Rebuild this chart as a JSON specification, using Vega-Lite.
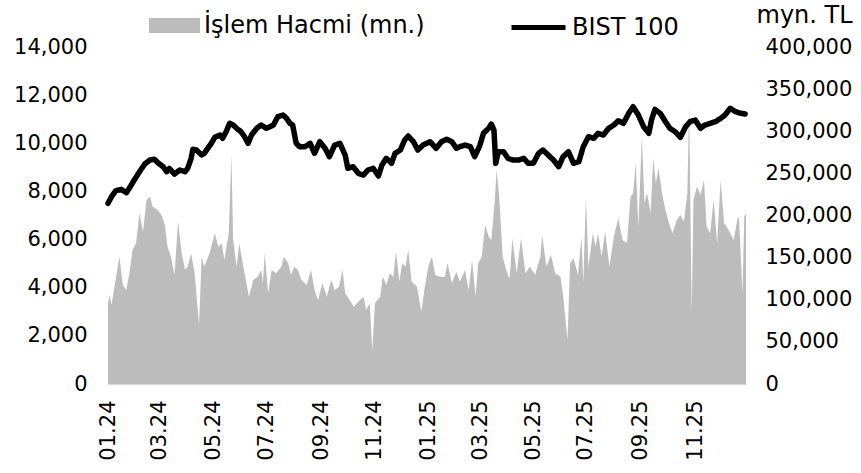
{
"$schema": "https://vega.github.io/schema/vega-lite/v6.json",
"width": 638, "height": 337,
"autosize": {"type": "none"},
"padding": {"left": 108, "top": 47, "right": 115, "bottom": 89},
"background": "white",
"config": {"view": {"stroke": null}, "font": "DejaVu Sans",
 "axis": {"labelFont": "DejaVu Sans", "labelFontSize": 21, "labelColor": "#000000", "grid": false, "ticks": false, "tickSize": 0, "domain": false, "titleFont": "DejaVu Sans"},
 "legend": {"labelFont": "DejaVu Sans", "labelFontSize": 24, "labelColor": "#000000", "padding": 0, "titlePadding": 0, "labelLimit": 500}},
"datasets": {
"bist": [
{"date":"2024-01-02","bist":7506},{"date":"2024-01-06","bist":7781},{"date":"2024-01-11","bist":8030},{"date":"2024-01-17","bist":8088},{"date":"2024-01-23","bist":7947},{"date":"2024-01-27","bist":8171},{"date":"2024-02-01","bist":8474},{"date":"2024-02-07","bist":8819},{"date":"2024-02-13","bist":9139},{"date":"2024-02-19","bist":9305},{"date":"2024-02-24","bist":9334},{"date":"2024-02-28","bist":9193},{"date":"2024-03-05","bist":9027},{"date":"2024-03-09","bist":8819},{"date":"2024-03-12","bist":8960},{"date":"2024-03-18","bist":8723},{"date":"2024-03-24","bist":8890},{"date":"2024-03-30","bist":8819},{"date":"2024-04-02","bist":8960},{"date":"2024-04-06","bist":9376},{"date":"2024-04-08","bist":9750},{"date":"2024-04-12","bist":9720},{"date":"2024-04-18","bist":9513},{"date":"2024-04-21","bist":9583},{"date":"2024-04-25","bist":9791},{"date":"2024-04-29","bist":9999},{"date":"2024-05-03","bist":10248},{"date":"2024-05-09","bist":10343},{"date":"2024-05-12","bist":10206},{"date":"2024-05-16","bist":10481},{"date":"2024-05-20","bist":10829},{"date":"2024-05-24","bist":10759},{"date":"2024-05-28","bist":10622},{"date":"2024-06-02","bist":10481},{"date":"2024-06-06","bist":10273},{"date":"2024-06-10","bist":9999},{"date":"2024-06-14","bist":10343},{"date":"2024-06-20","bist":10622},{"date":"2024-06-25","bist":10759},{"date":"2024-07-01","bist":10622},{"date":"2024-07-05","bist":10688},{"date":"2024-07-09","bist":10759},{"date":"2024-07-14","bist":11104},{"date":"2024-07-20","bist":11174},{"date":"2024-07-24","bist":11037},{"date":"2024-07-28","bist":10829},{"date":"2024-07-31","bist":10759},{"date":"2024-08-04","bist":9999},{"date":"2024-08-08","bist":9857},{"date":"2024-08-14","bist":9857},{"date":"2024-08-20","bist":9999},{"date":"2024-08-25","bist":9583},{"date":"2024-08-31","bist":10065},{"date":"2024-09-06","bist":9791},{"date":"2024-09-11","bist":9442},{"date":"2024-09-17","bist":9928},{"date":"2024-09-23","bist":9999},{"date":"2024-09-29","bist":9513},{"date":"2024-10-02","bist":8960},{"date":"2024-10-08","bist":9027},{"date":"2024-10-14","bist":8752},{"date":"2024-10-20","bist":8682},{"date":"2024-10-25","bist":8890},{"date":"2024-10-31","bist":8960},{"date":"2024-11-06","bist":8640},{"date":"2024-11-10","bist":9097},{"date":"2024-11-15","bist":9376},{"date":"2024-11-21","bist":9168},{"date":"2024-11-25","bist":9583},{"date":"2024-12-01","bist":9720},{"date":"2024-12-06","bist":10136},{"date":"2024-12-10","bist":10302},{"date":"2024-12-16","bist":10065},{"date":"2024-12-21","bist":9720},{"date":"2024-12-27","bist":9928},
{"date":"2025-01-04","bist":10065},{"date":"2025-01-11","bist":9791},{"date":"2025-01-17","bist":10065},{"date":"2025-01-23","bist":10165},{"date":"2025-01-29","bist":10065},{"date":"2025-02-03","bist":9791},{"date":"2025-02-07","bist":9857},{"date":"2025-02-13","bist":9928},{"date":"2025-02-19","bist":9857},{"date":"2025-02-24","bist":9442},{"date":"2025-03-02","bist":9928},{"date":"2025-03-06","bist":10414},{"date":"2025-03-12","bist":10622},{"date":"2025-03-15","bist":10800},{"date":"2025-03-18","bist":10551},{"date":"2025-03-20","bist":9168},{"date":"2025-03-23","bist":9650},{"date":"2025-03-29","bist":9650},{"date":"2025-04-03","bist":9376},{"date":"2025-04-09","bist":9305},{"date":"2025-04-15","bist":9305},{"date":"2025-04-21","bist":9376},{"date":"2025-04-26","bist":9168},{"date":"2025-05-02","bist":9168},{"date":"2025-05-08","bist":9583},{"date":"2025-05-13","bist":9720},{"date":"2025-05-19","bist":9513},{"date":"2025-05-25","bist":9305},{"date":"2025-05-31","bist":9027},{"date":"2025-06-05","bist":9442},{"date":"2025-06-11","bist":9650},{"date":"2025-06-17","bist":9168},{"date":"2025-06-23","bist":9235},{"date":"2025-06-28","bist":9857},{"date":"2025-07-04","bist":10273},{"date":"2025-07-10","bist":10206},{"date":"2025-07-15","bist":10414},{"date":"2025-07-21","bist":10343},{"date":"2025-07-27","bist":10622},{"date":"2025-08-02","bist":10759},{"date":"2025-08-07","bist":10938},{"date":"2025-08-13","bist":10829},{"date":"2025-08-19","bist":11245},{"date":"2025-08-24","bist":11519},{"date":"2025-08-30","bist":11174},{"date":"2025-09-05","bist":10688},{"date":"2025-09-11","bist":10414},{"date":"2025-09-14","bist":10967},{"date":"2025-09-18","bist":11411},{"date":"2025-09-24","bist":11245},{"date":"2025-09-30","bist":10896},{"date":"2025-10-05","bist":10622},{"date":"2025-10-11","bist":10481},{"date":"2025-10-17","bist":10248},{"date":"2025-10-23","bist":10688},{"date":"2025-10-28","bist":10896},{"date":"2025-11-03","bist":10967},{"date":"2025-11-09","bist":10622},{"date":"2025-11-14","bist":10759},{"date":"2025-11-20","bist":10829},{"date":"2025-11-26","bist":10896},{"date":"2025-12-02","bist":11037},{"date":"2025-12-07","bist":11174},{"date":"2025-12-13","bist":11453},{"date":"2025-12-19","bist":11311},{"date":"2025-12-25","bist":11245},{"date":"2025-12-30","bist":11216}
],
"vol": [
{"date":"2024-01-02","vol":95783},{"date":"2024-01-04","vol":105634},{"date":"2024-01-06","vol":93765},{"date":"2024-01-11","vol":125455},{"date":"2024-01-15","vol":151092},{"date":"2024-01-19","vol":117503},{"date":"2024-01-23","vol":111569},{"date":"2024-01-27","vol":135307},{"date":"2024-01-30","vol":159045},{"date":"2024-02-03","vol":166997},{"date":"2024-02-07","vol":202604},{"date":"2024-02-11","vol":180765},{"date":"2024-02-15","vol":218390},{"date":"2024-02-19","vol":222306},{"date":"2024-02-22","vol":210437},{"date":"2024-02-28","vol":206521},{"date":"2024-03-03","vol":200586},{"date":"2024-03-07","vol":188717},{"date":"2024-03-10","vol":162961},{"date":"2024-03-14","vol":151092},{"date":"2024-03-18","vol":129372},{"date":"2024-03-22","vol":192634},{"date":"2024-03-26","vol":157027},{"date":"2024-03-30","vol":135307},{"date":"2024-04-02","vol":139223},{"date":"2024-04-06","vol":155128},{"date":"2024-04-10","vol":131390},{"date":"2024-04-15","vol":70027},{"date":"2024-04-18","vol":151092},{"date":"2024-04-21","vol":139223},{"date":"2024-04-27","vol":155128},{"date":"2024-05-03","vol":178866},{"date":"2024-05-07","vol":162961},{"date":"2024-05-11","vol":166997},{"date":"2024-05-14","vol":147176},{"date":"2024-05-19","vol":178866},{"date":"2024-05-22","vol":271800},{"date":"2024-05-24","vol":170914},{"date":"2024-05-28","vol":139223},{"date":"2024-05-31","vol":166997},{"date":"2024-06-06","vol":131390},{"date":"2024-06-11","vol":103616},{"date":"2024-06-16","vol":123438},{"date":"2024-06-21","vol":127354},{"date":"2024-06-25","vol":135307},{"date":"2024-06-27","vol":119521},{"date":"2024-06-29","vol":155128},{"date":"2024-07-03","vol":107652},{"date":"2024-07-07","vol":135307},{"date":"2024-07-12","vol":131390},{"date":"2024-07-18","vol":139223},{"date":"2024-07-21","vol":151092},{"date":"2024-07-26","vol":143259},{"date":"2024-07-29","vol":129372},{"date":"2024-08-02","vol":139223},{"date":"2024-08-06","vol":135307},{"date":"2024-08-10","vol":123438},{"date":"2024-08-16","vol":117503},{"date":"2024-08-21","vol":135307},{"date":"2024-08-25","vol":111569},{"date":"2024-08-29","vol":99700},{"date":"2024-09-03","vol":119521},{"date":"2024-09-08","vol":103616},{"date":"2024-09-13","vol":123438},{"date":"2024-09-17","vol":111569},{"date":"2024-09-22","vol":115485},{"date":"2024-09-26","vol":135307},{"date":"2024-09-29","vol":107652},{"date":"2024-10-04","vol":99700},{"date":"2024-10-09","vol":91747},{"date":"2024-10-14","vol":97682},{"date":"2024-10-20","vol":103616},{"date":"2024-10-23","vol":87831},{"date":"2024-10-27","vol":95783},{"date":"2024-10-30","vol":40355},{"date":"2024-11-02","vol":95783},{"date":"2024-11-08","vol":103616},{"date":"2024-11-11","vol":127354},{"date":"2024-11-15","vol":117503},{"date":"2024-11-19","vol":131390},{"date":"2024-11-23","vol":127354},{"date":"2024-11-26","vol":157027},{"date":"2024-11-30","vol":121420},{"date":"2024-12-03","vol":143259},{"date":"2024-12-07","vol":139223},{"date":"2024-12-10","vol":159045},{"date":"2024-12-14","vol":121420},{"date":"2024-12-20","vol":115485},{"date":"2024-12-25","vol":85813},{"date":"2024-12-29","vol":115485},
{"date":"2025-01-02","vol":139223},{"date":"2025-01-06","vol":151092},{"date":"2025-01-10","vol":129372},{"date":"2025-01-15","vol":127354},{"date":"2025-01-21","vol":127354},{"date":"2025-01-24","vol":143259},{"date":"2025-01-29","vol":119521},{"date":"2025-02-03","vol":133289},{"date":"2025-02-07","vol":121420},{"date":"2025-02-13","vol":135307},{"date":"2025-02-17","vol":111569},{"date":"2025-02-21","vol":147176},{"date":"2025-02-25","vol":103616},{"date":"2025-02-28","vol":143259},{"date":"2025-03-04","vol":151092},{"date":"2025-03-08","vol":188717},{"date":"2025-03-12","vol":174830},{"date":"2025-03-15","vol":170914},{"date":"2025-03-19","vol":218390},{"date":"2025-03-21","vol":253997},{"date":"2025-03-24","vol":222306},{"date":"2025-03-28","vol":151092},{"date":"2025-04-02","vol":131390},{"date":"2025-04-05","vol":125455},{"date":"2025-04-08","vol":172931},{"date":"2025-04-13","vol":131390},{"date":"2025-04-18","vol":172931},{"date":"2025-04-23","vol":131390},{"date":"2025-04-28","vol":139223},{"date":"2025-05-04","vol":129372},{"date":"2025-05-10","vol":151092},{"date":"2025-05-12","vol":176848},{"date":"2025-05-17","vol":139223},{"date":"2025-05-22","vol":153110},{"date":"2025-05-27","vol":131390},{"date":"2025-06-02","vol":127354},{"date":"2025-06-05","vol":105634},{"date":"2025-06-10","vol":52224},{"date":"2025-06-13","vol":143259},{"date":"2025-06-17","vol":149193},{"date":"2025-06-22","vol":129372},{"date":"2025-06-26","vol":174830},{"date":"2025-06-28","vol":119521},{"date":"2025-07-01","vol":218390},{"date":"2025-07-02","vol":198568},{"date":"2025-07-04","vol":139223},{"date":"2025-07-09","vol":178866},{"date":"2025-07-12","vol":162961},{"date":"2025-07-15","vol":178866},{"date":"2025-07-19","vol":151092},{"date":"2025-07-23","vol":180765},{"date":"2025-07-28","vol":139223},{"date":"2025-08-02","vol":174830},{"date":"2025-08-07","vol":196669},{"date":"2025-08-12","vol":170914},{"date":"2025-08-17","vol":166997},{"date":"2025-08-21","vol":222306},{"date":"2025-08-24","vol":226342},{"date":"2025-08-27","vol":261949},{"date":"2025-08-30","vol":186699},{"date":"2025-09-03","vol":293520},{"date":"2025-09-06","vol":214473},{"date":"2025-09-09","vol":226342},{"date":"2025-09-13","vol":202604},{"date":"2025-09-16","vol":267883},{"date":"2025-09-19","vol":238211},{"date":"2025-09-22","vol":256014},{"date":"2025-09-26","vol":226342},{"date":"2025-09-30","vol":206521},{"date":"2025-10-04","vol":190735},{"date":"2025-10-08","vol":178866},{"date":"2025-10-13","vol":194652},{"date":"2025-10-17","vol":200586},{"date":"2025-10-21","vol":192634},{"date":"2025-10-25","vol":226342},{"date":"2025-10-27","vol":329127},{"date":"2025-10-30","vol":83914},{"date":"2025-11-01","vol":218390},{"date":"2025-11-05","vol":234175},{"date":"2025-11-09","vol":224324},{"date":"2025-11-13","vol":242128},{"date":"2025-11-16","vol":186699},{"date":"2025-11-20","vol":178866},{"date":"2025-11-24","vol":218390},{"date":"2025-11-28","vol":166997},{"date":"2025-12-02","vol":242128},{"date":"2025-12-06","vol":190735},{"date":"2025-12-09","vol":186699},{"date":"2025-12-13","vol":178866},{"date":"2025-12-17","vol":170914},{"date":"2025-12-21","vol":194652},{"date":"2025-12-23","vol":198568},{"date":"2025-12-27","vol":107652},{"date":"2025-12-29","vol":198568},{"date":"2025-12-31","vol":202604}
]
},
"encoding": {
 "x": {"field": "date", "type": "temporal",
  "scale": {"type": "utc", "domain": [{"year": 2024, "month": 1, "date": 2, "utc": true}, {"year": 2025, "month": 12, "date": 31, "utc": true}]},
  "axis": {"title": null, "labelExpr": "utcFormat(datum.value, '%m.%y')", "labelAngle": -90, "labelAlign": "right", "labelBaseline": "middle", "labelPadding": 16,
   "domain": true, "domainColor": "#D9D9D9", "domainWidth": 1.5,
   "values": [
    {"year": 2024, "month": 1, "date": 2, "utc": true},
    {"year": 2024, "month": 3, "date": 1, "utc": true},
    {"year": 2024, "month": 5, "date": 2, "utc": true},
    {"year": 2024, "month": 7, "date": 1, "utc": true},
    {"year": 2024, "month": 9, "date": 2, "utc": true},
    {"year": 2024, "month": 11, "date": 1, "utc": true},
    {"year": 2025, "month": 1, "date": 2, "utc": true},
    {"year": 2025, "month": 3, "date": 3, "utc": true},
    {"year": 2025, "month": 5, "date": 2, "utc": true},
    {"year": 2025, "month": 7, "date": 1, "utc": true},
    {"year": 2025, "month": 9, "date": 1, "utc": true},
    {"year": 2025, "month": 11, "date": 3, "utc": true}
   ]}}
},
"layer": [
 {"data": {"name": "vol"},
  "mark": {"type": "area", "interpolate": "linear"},
  "encoding": {
   "y": {"field": "vol", "type": "quantitative",
    "scale": {"domain": [0, 400000], "nice": false, "zero": true},
    "axis": {"orient": "right", "values": [0, 50000, 100000, 150000, 200000, 250000, 300000, 350000, 400000], "format": ",.0f", "labelPadding": 19,
     "title": "myn. TL", "titleAngle": 0, "titleAlign": "left", "titleBaseline": "middle", "titleX": 10, "titleY": -32, "titleFontSize": 24, "titleFontWeight": "normal", "titleColor": "#000000"}},
   "fill": {"datum": "İşlem Hacmi (mn.)", "type": "nominal", "scale": {"range": ["#BCBCBC"]},
    "legend": {"title": null, "orient": "none", "legendX": 41, "legendY": -47, "symbolType": "M-1,-0.294H1V0.294H-1Z", "symbolSize": 2601, "symbolStrokeWidth": 0, "symbolOpacity": 1, "labelOffset": 4}}
  }},
 {"data": {"name": "bist"},
  "mark": {"type": "line", "strokeWidth": 5.5, "strokeJoin": "round", "strokeCap": "round", "interpolate": "linear"},
  "encoding": {
   "y": {"field": "bist", "type": "quantitative",
    "scale": {"domain": [0, 14000], "nice": false, "zero": true},
    "axis": {"orient": "left", "values": [0, 2000, 4000, 6000, 8000, 10000, 12000, 14000], "format": ",.0f", "labelPadding": 21, "title": null}},
   "stroke": {"datum": "BIST 100", "type": "nominal", "scale": {"range": ["#000000"]},
    "legend": {"title": null, "orient": "none", "legendX": 401, "legendY": -49, "symbolType": "stroke", "symbolSize": 2916, "symbolStrokeWidth": 5, "labelOffset": 4}}
  }}
],
"resolve": {"scale": {"y": "independent", "fill": "independent", "stroke": "independent"}}
}
